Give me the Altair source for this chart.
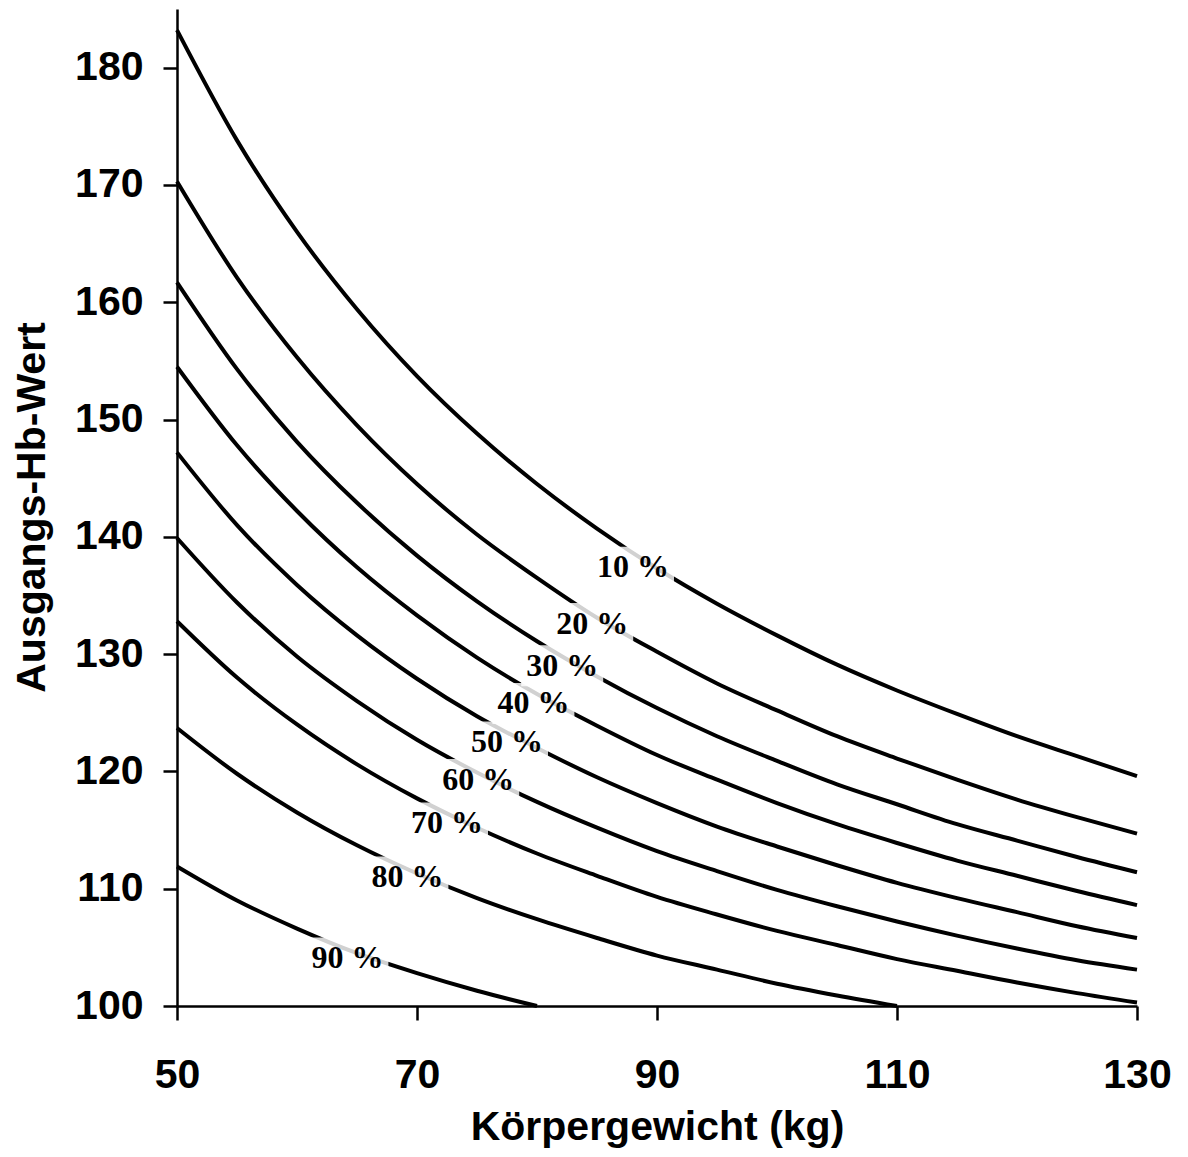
import altair as alt
import pandas as pd

# Körpergewicht (kg) sample points
weights = [50, 55, 60, 65, 70, 75, 80, 85, 90, 95, 100, 105, 110, 115, 120, 125, 130]

curve_labels = ["10 %", "20 %", "30 %", "40 %", "50 %", "60 %", "70 %", "80 %", "90 %"]

hb_10 = [183.2, 173.8, 166.0, 159.4, 153.7, 148.8, 144.5, 140.7, 137.3, 134.3, 131.6, 129.1, 126.9, 124.9, 123.0, 121.3, 119.6]
hb_20 = [170.3, 162.1, 155.3, 149.5, 144.5, 140.2, 136.5, 133.1, 130.2, 127.5, 125.2, 123.0, 121.1, 119.3, 117.6, 116.1, 114.7]
hb_30 = [161.7, 154.3, 148.1, 142.9, 138.4, 134.5, 131.1, 128.1, 125.4, 123.0, 120.9, 118.9, 117.2, 115.5, 114.1, 112.7, 111.4]
hb_40 = [154.5, 147.8, 142.2, 137.4, 133.3, 129.7, 126.6, 123.9, 121.4, 119.3, 117.3, 115.5, 113.9, 112.4, 111.1, 109.8, 108.6]
hb_50 = [147.2, 141.0, 135.9, 131.6, 127.9, 124.7, 122.0, 119.5, 117.3, 115.3, 113.6, 112.0, 110.5, 109.2, 108.0, 106.8, 105.8]
hb_60 = [139.9, 134.4, 129.8, 126.0, 122.7, 119.9, 117.4, 115.2, 113.2, 111.5, 109.9, 108.5, 107.2, 106.0, 104.9, 103.9, 103.1]
hb_70 = [132.8, 128.0, 124.0, 120.6, 117.7, 115.2, 113.0, 111.1, 109.3, 107.8, 106.4, 105.2, 104.0, 103.0, 102.0, 101.1, 100.3]
hb_80 = [123.7, 119.8, 116.5, 113.7, 111.3, 109.2, 107.4, 105.8, 104.3, 103.1, 101.9, 100.9, 100.0]
hb_90 = [111.9, 109.0, 106.6, 104.5, 102.8, 101.3, 100.0]

series = [hb_10, hb_20, hb_30, hb_40, hb_50, hb_60, hb_70, hb_80, hb_90]

# label anchor points (weight, Hb)
label_weight = [88.0, 84.6, 82.1, 79.7, 77.5, 75.1, 72.5, 69.2, 64.2]
label_hb = [137.4, 132.6, 129.0, 125.8, 122.5, 119.3, 115.6, 111.0, 104.1]

rows = []
for name, vals in zip(curve_labels, series):
    for w, v in zip(weights, vals):
        rows.append({"curve": name, "weight": w, "hb": v})
df = pd.DataFrame(rows)

labels_df = pd.DataFrame({"text": curve_labels, "weight": label_weight, "hb": label_hb})

x_scale = alt.Scale(domain=[50, 130], nice=False, zero=False)
y_scale = alt.Scale(domain=[100, 185], nice=False, zero=False)

AX_FONT = "Liberation Sans"

x_axis = alt.Axis(
    values=[50, 70, 90, 110, 130],
    title="Körpergewicht (kg)",
    grid=False,
    domainColor="black", domainWidth=2.5,
    tickColor="black", tickWidth=2.5, tickSize=14,
    labelFont=AX_FONT, labelFontSize=41, labelFontWeight="bold", labelColor="black",
    labelPadding=35, labelFlush=False,
    titleFont=AX_FONT, titleFontSize=41, titleFontWeight="bold", titleColor="black",
    titleBaseline="alphabetic", titleY=133, titleX=480, titleAnchor="middle",
)
y_axis = alt.Axis(
    values=[100, 110, 120, 130, 140, 150, 160, 170, 180],
    title="Ausgangs-Hb-Wert",
    grid=False,
    domainColor="black", domainWidth=2.5,
    tickColor="black", tickWidth=2.5, tickSize=14,
    labelFont=AX_FONT, labelFontSize=41, labelFontWeight="bold", labelColor="black",
    labelPadding=20, labelFlush=False,
    titleFont=AX_FONT, titleFontSize=41, titleFontWeight="bold", titleColor="black",
    titleAngle=270, titleBaseline="alphabetic", titleAlign="center",
    titleX=-133, titleY=498,
)

lines = alt.Chart(df).mark_line(color="black", strokeWidth=4, interpolate="monotone").encode(
    x=alt.X("weight:Q", scale=x_scale, axis=x_axis),
    y=alt.Y("hb:Q", scale=y_scale, axis=y_axis),
    detail="curve:N",
)

boxes = alt.Chart(labels_df).mark_point(
    shape="M-1,-0.5L1,-0.5L1,0.5L-1,0.5Z",
    filled=True, fill="white", fillOpacity=0.82, strokeWidth=0, size=6724,
).encode(
    x=alt.X("weight:Q", scale=x_scale),
    y=alt.Y("hb:Q", scale=y_scale),
)

texts = alt.Chart(labels_df).mark_text(
    font="Liberation Serif", fontSize=32, fontWeight="bold", color="black",
    align="center", baseline="middle",
).encode(
    x=alt.X("weight:Q", scale=x_scale),
    y=alt.Y("hb:Q", scale=y_scale),
    text="text:N",
)

chart = alt.layer(lines, boxes, texts).properties(
    width=960, height=997,
    padding={"left": 169, "top": 1, "right": 35, "bottom": 142},
    autosize=alt.AutoSizeParams(type="none"),
    background="white",
).configure_view(stroke=None, strokeWidth=0)

chart.save("out.html", embed_options={"renderer": "svg", "actions": False})
